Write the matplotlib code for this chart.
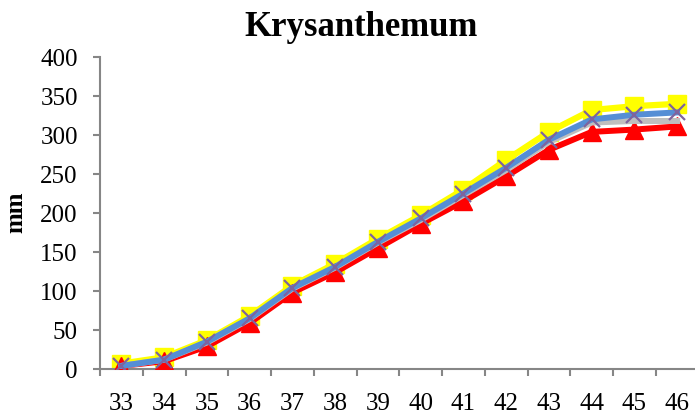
import matplotlib
matplotlib.use("Agg")
import matplotlib.pyplot as plt

plt.rcParams["font.family"] = ["Liberation Serif", "DejaVu Serif"]

weeks = ["33", "34", "35", "36", "37", "38", "39", "40", "41", "42", "43", "44", "45", "46"]
yellow = [7, 15, 37, 68, 107, 135, 167, 197, 230, 268, 304, 332, 337, 340]
red = [4, 10, 29, 59, 98, 124, 155, 186, 215, 247, 281, 304, 307, 311]
gray = [4, 12, 34, 64, 103, 130, 162, 191, 223, 255, 291, 316, 318, 318]
blue = [4, 12, 35, 65, 104, 131, 163, 193, 225, 258, 294, 320, 326, 329]

x = list(range(len(weeks)))

fig = plt.figure(figsize=(6.95, 4.19), dpi=100)
ax = fig.add_axes([0.1439, 0.1193, 0.8612, 0.7446])

ax.plot(x, yellow, color="#FFFF00", lw=4.5, marker="s", ms=13, mec="#FFFF00", zorder=2)
ax.plot(x, red, color="#FF0000", lw=4.3, marker="^", ms=13.5, mec="#FF0000", zorder=3)
ax.plot(x, gray, color="#BFBFBF", lw=4.3, zorder=4)
ax.plot(x, blue, color="#558ED5", lw=4.3, zorder=5)
ax.plot(x, blue, ls="none", marker="x", ms=12, mew=1.6, color="#7E649E", zorder=6)

ax.set_xlim(-0.5, len(weeks) - 0.5)
ax.set_ylim(0, 400)
ax.set_yticks(range(0, 401, 50))
ax.set_xticks(x)
ax.set_xticklabels(weeks)
ax.set_xticks([i + 0.5 for i in range(-1, len(weeks))], minor=True)

for s in ["top", "right"]:
    ax.spines[s].set_visible(False)
for s in ["left", "bottom"]:
    ax.spines[s].set_color("#868686")
    ax.spines[s].set_linewidth(1.5)

ax.tick_params(axis="x", which="major", length=0, pad=17, labelsize=18)
ax.tick_params(axis="x", which="minor", length=5, width=1.5, color="#868686")
ax.tick_params(axis="y", length=5, width=1.5, color="#868686", pad=11, labelsize=18)

fig.text(0.0235, 0.494, "mm", rotation=90, fontsize=18, fontweight="bold",
         ha="center", va="center")
fig.text(0.519, 0.914, "Krysanthemum", fontsize=25, fontweight="bold",
         ha="center", va="baseline")

fig.savefig("out.png", dpi=100)
